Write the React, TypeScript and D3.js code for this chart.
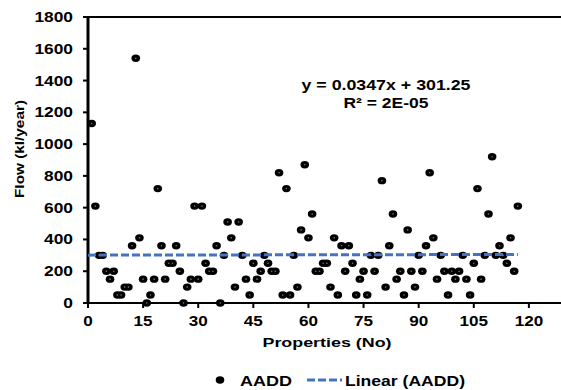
import React, { useEffect, useRef } from 'react';
import * as d3 from 'd3';

// Property numbers (x) and AADD flow in kl/year (y)
const propertyNo = [
  1, 2, 3, 4, 5, 6, 7, 8, 9, 10, 11, 12, 13, 14, 15, 16, 17, 18, 19, 20,
  21, 22, 23, 24, 25, 26, 27, 28, 29, 30, 31, 32, 33, 34, 35, 36, 37, 38, 39, 40,
  41, 42, 43, 44, 45, 46, 47, 48, 49, 50, 51, 52, 53, 54, 55, 56, 57, 58, 59, 60,
  61, 62, 63, 64, 65, 66, 67, 68, 69, 70, 71, 72, 73, 74, 75, 76, 77, 78, 79, 80,
  81, 82, 83, 84, 85, 86, 87, 88, 89, 90, 91, 92, 93, 94, 95, 96, 97, 98, 99, 100,
  101, 102, 103, 104, 105, 106, 107, 108, 109, 110, 111, 112, 113, 114, 115, 116, 117
];
const flowValues = [
  1130, 610, 300, 300, 200, 150, 200, 50, 50, 100, 100, 360, 1540, 410, 150, 0, 50, 150, 720, 360,
  150, 250, 250, 360, 200, 0, 100, 150, 610, 150, 610, 250, 200, 200, 360, 0, 300, 510, 410, 100,
  510, 300, 150, 50, 250, 150, 200, 300, 250, 200, 200, 820, 50, 720, 50, 300, 100, 460, 870, 410,
  560, 200, 200, 250, 250, 100, 410, 50, 360, 200, 360, 250, 50, 150, 200, 50, 300, 200, 300, 770,
  100, 360, 560, 150, 200, 50, 460, 200, 100, 300, 200, 360, 820, 410, 150, 300, 200, 50, 200, 150,
  200, 300, 150, 50, 250, 720, 150, 300, 560, 920, 300, 360, 300, 250, 410, 200, 610
];

const xTicks = [0, 15, 30, 45, 60, 75, 90, 105, 120];
const yTicks = [0, 200, 400, 600, 800, 1000, 1200, 1400, 1600, 1800];

// Linear trendline as printed on the chart
const trendSlope = 0.0347;
const trendIntercept = 301.25;
const trendRange = [0, 117];

const FONT = '"Liberation Sans", Arial, Helvetica, sans-serif';
const BLUE = '#4472C4';

function App() {
  const svgRef = useRef(null);

  useEffect(() => {
    const svg = d3.select(svgRef.current);
    svg.selectAll('*').remove();

    const x = d3.scaleLinear().domain([0, 135]).range([88, 584]);
    const y = d3.scaleLinear().domain([0, 1800]).range([303, 17]);

    const data = propertyNo.map((p, i) => ({ p, v: flowValues[i] }));

    // top border of the plot area
    svg.append('line')
      .attr('x1', x(0)).attr('x2', 584)
      .attr('y1', y(1800)).attr('y2', y(1800))
      .attr('stroke', '#000').attr('stroke-width', 2);

    // y axis
    const yAxis = svg.append('g');
    yAxis.append('line')
      .attr('x1', x(0)).attr('x2', x(0))
      .attr('y1', y(1800) - 1).attr('y2', y(0) + 1)
      .attr('stroke', '#000').attr('stroke-width', 3);
    yAxis.selectAll('.ytick')
      .data(yTicks)
      .enter()
      .append('line')
      .attr('x1', x(0) - 5).attr('x2', x(0))
      .attr('y1', d => y(d)).attr('y2', d => y(d))
      .attr('stroke', '#000').attr('stroke-width', 2);
    yAxis.selectAll('.ylabel')
      .data(yTicks)
      .enter()
      .append('text')
      .attr('transform', d => `translate(73, ${y(d) + 5}) scale(1.24, 1)`)
      .attr('text-anchor', 'end')
      .attr('font-family', FONT)
      .attr('font-weight', 'bold')
      .attr('font-size', '14px')
      .attr('fill', '#000')
      .text(d => d);

    // x axis
    const xAxis = svg.append('g');
    xAxis.append('line')
      .attr('x1', x(0) - 1).attr('x2', 584)
      .attr('y1', y(0)).attr('y2', y(0))
      .attr('stroke', '#000').attr('stroke-width', 2);
    xAxis.selectAll('.xtick')
      .data(xTicks)
      .enter()
      .append('line')
      .attr('x1', d => x(d)).attr('x2', d => x(d))
      .attr('y1', y(0)).attr('y2', y(0) + 5)
      .attr('stroke', '#000').attr('stroke-width', 2);
    xAxis.selectAll('.xlabel')
      .data(xTicks)
      .enter()
      .append('text')
      .attr('transform', d => `translate(${x(d)}, 326) scale(1.22, 1)`)
      .attr('text-anchor', 'middle')
      .attr('font-family', FONT)
      .attr('font-weight', 'bold')
      .attr('font-size', '14px')
      .attr('fill', '#000')
      .text(d => d);

    // axis titles
    svg.append('text')
      .attr('x', 327).attr('y', 347)
      .attr('text-anchor', 'middle')
      .attr('font-family', FONT)
      .attr('font-weight', 'bold')
      .attr('font-size', '13.5px')
      .attr('textLength', 129)
      .attr('lengthAdjust', 'spacingAndGlyphs')
      .text('Properties (No)');

    svg.append('text')
      .attr('transform', 'translate(24, 149) rotate(-90)')
      .attr('text-anchor', 'middle')
      .attr('font-family', FONT)
      .attr('font-weight', 'bold')
      .attr('font-size', '13.5px')
      .attr('textLength', 98)
      .attr('lengthAdjust', 'spacingAndGlyphs')
      .text('Flow (kl/year)');

    // data points
    const pts = svg.append('g');
    pts.selectAll('ellipse')
      .data(data)
      .enter()
      .append('ellipse')
      .attr('cx', d => x(d.p))
      .attr('cy', d => y(d.v))
      .attr('rx', 4.3)
      .attr('ry', 3.7)
      .attr('fill', '#000');
    pts.selectAll('circle')
      .data(data)
      .enter()
      .append('circle')
      .attr('cx', d => x(d.p))
      .attr('cy', d => y(d.v))
      .attr('r', 0.8)
      .attr('fill', '#777');

    // trendline
    const line = d3.line().x(d => x(d)).y(d => y(trendSlope * d + trendIntercept));
    svg.append('path')
      .attr('d', line(trendRange))
      .attr('fill', 'none')
      .attr('stroke', BLUE)
      .attr('stroke-width', 3)
      .attr('stroke-dasharray', '8,3');

    // equation
    svg.append('text')
      .attr('x', 386).attr('y', 90)
      .attr('text-anchor', 'middle')
      .attr('font-family', FONT)
      .attr('font-weight', 'bold')
      .attr('font-size', '14px')
      .attr('textLength', 169)
      .attr('lengthAdjust', 'spacingAndGlyphs')
      .text(`y = ${trendSlope}x + ${trendIntercept}`);
    svg.append('text')
      .attr('x', 386).attr('y', 108)
      .attr('text-anchor', 'middle')
      .attr('font-family', FONT)
      .attr('font-weight', 'bold')
      .attr('font-size', '14px')
      .attr('textLength', 85)
      .attr('lengthAdjust', 'spacingAndGlyphs')
      .text('R² = 2E-05');

    // legend
    const legend = svg.append('g');
    legend.append('ellipse')
      .attr('cx', 220).attr('cy', 380)
      .attr('rx', 4.3).attr('ry', 3.7)
      .attr('fill', '#000');
    legend.append('text')
      .attr('x', 240).attr('y', 386)
      .attr('font-family', FONT)
      .attr('font-weight', 'bold')
      .attr('font-size', '14px')
      .attr('textLength', 52)
      .attr('lengthAdjust', 'spacingAndGlyphs')
      .text('AADD');
    legend.append('line')
      .attr('x1', 307).attr('x2', 342)
      .attr('y1', 380).attr('y2', 380)
      .attr('stroke', BLUE)
      .attr('stroke-width', 3)
      .attr('stroke-dasharray', '8,3');
    legend.append('text')
      .attr('x', 345).attr('y', 386)
      .attr('font-family', FONT)
      .attr('font-weight', 'bold')
      .attr('font-size', '14px')
      .attr('textLength', 120)
      .attr('lengthAdjust', 'spacingAndGlyphs')
      .text('Linear (AADD)');
  }, []);

  return (
    <div style={{ position: 'fixed', left: 0, top: 0, width: 561, height: 390, background: '#fff', overflow: 'hidden' }}>
      <svg ref={svgRef} width={561} height={390} style={{ display: 'block' }} />
    </div>
  );
}

export default App;
